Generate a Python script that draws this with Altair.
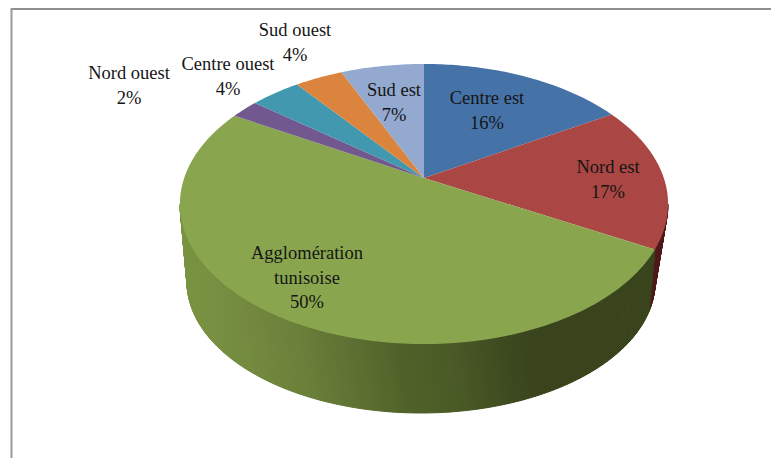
import math
import altair as alt

# ---- data ----
regions = ["Centre est", "Nord est", "Agglomération tunisoise", "Nord ouest", "Centre ouest", "Sud ouest", "Sud est"]
shares = [16.4, 16.6, 50.4, 2.2, 4.0, 3.8, 6.6]
slice_colors = ["#4572A7", "#AA4643", "#89A54E", "#71588F", "#4198AF", "#DB843D", "#93A9CF"]
label_lines = [["Centre est", "16%"], ["Nord est", "17%"], ["Agglomération", "tunisoise", "50%"],
               ["Nord ouest", "2%"], ["Centre ouest", "4%"], ["Sud ouest", "4%"], ["Sud est", "7%"]]
label_x = [487, 608, 307, 129, 228, 295, 394]
label_y = [98, 167, 253, 73, 64, 30, 90]

# ---- layout of the tilted disc (page pixels) ----
OX, OY = 8, 8
CX, APEX_Y = 424, 178
A, B, K = 239.8, 135.2, -0.1857
TOP = (424, 204, 244, 140)
BOTTOM = (421, 282, 234, 131)
STOPS = [(180, (122, 148, 67)), (250, (114, 137, 62)), (300, (106, 127, 57)), (350, (93, 113, 50)),
         (400, (80, 97, 40)), (450, (74, 90, 38)), (510, (60, 72, 30)), (530, (57, 68, 28)), (700, (57, 68, 28))]


def disc(theta):
    u, v = math.sin(theta), -math.cos(theta)
    d = 1 + K * v
    return [CX + A * u / d - OX, APEX_Y + B * v / d - OY]


def rim(e, phi):
    return [e[0] + e[2] * math.cos(phi) - OX, e[1] + e[3] * math.sin(phi) - OY]


def feature(ring, color):
    return {"type": "Feature", "properties": {"color": color},
            "geometry": {"type": "Polygon", "coordinates": [ring + [ring[0]]]}}


def wall_color(x):
    for (x0, c0), (x1, c1) in zip(STOPS, STOPS[1:]):
        if x <= x1:
            t = (x - x0) / (x1 - x0)
            return "rgb(%d,%d,%d)" % tuple(round(a + (b - a) * t) for a, b in zip(c0, c1))
    return "rgb(57,68,28)"


# top face
edges = [0.0]
for s in shares:
    edges.append(edges[-1] + s / sum(shares) * 2 * math.pi)
top_feats = []
for i, c in enumerate(slice_colors):
    n = max(4, int((edges[i + 1] - edges[i]) * 60))
    arc = [disc(edges[i] + (edges[i + 1] - edges[i]) * k / n) for k in range(n + 1)]
    top_feats.append(feature([[CX - OX, APEX_Y - OY]] + arc, c))

# side wall
bx, by = disc(edges[2])
phi_top = math.atan2((by + OY - TOP[1]) / TOP[3], (bx + OX - TOP[0]) / TOP[2])
phi_bot = math.radians(12.7)


def low(phi):
    if phi <= phi_top:
        return phi / phi_top * phi_bot
    return phi_bot + (phi - phi_top) / (math.pi - phi_top) * (math.pi - phi_bot)


wall_feats = []
steps = 240
grid = [math.pi * k / steps for k in range(steps + 1)]
for p0, p1 in zip(grid, grid[1:]):
    ring = [rim(TOP, p0), rim(TOP, p1), rim(BOTTOM, low(p1)), rim(BOTTOM, low(p0))]
    color = "#4f1a1a" if p1 <= phi_top + 1e-6 else wall_color(ring[0][0] + OX)
    wall_feats.append(feature(ring, color))

proj = alt.Projection(type="identity", scale=1, translate=[0, 0])


def shape_layer(feats, stroke):
    kw = {"strokeWidth": 1.0} if stroke else {"strokeWidth": 0}
    return alt.Chart(alt.Data(values=feats)).mark_geoshape(**kw).encode(
        fill=alt.Color("properties.color:N", scale=None),
        stroke=alt.Color("properties.color:N", scale=None),
    ).project(**proj.to_dict())


rows = [{"t": l, "x": x - OX, "y": y - OY} for l, x, y in zip(label_lines, label_x, label_y)]
labels = alt.Chart(alt.Data(values=rows)).mark_text(
    font="Liberation Serif", fontSize=18.5, lineHeight=24.5, color="#151515", align="center", baseline="middle"
).encode(
    text="t:N",
    x=alt.X("x:Q", scale=None, axis=None),
    y=alt.Y("y:Q", scale=None, axis=None),
)

frame_top = alt.Chart(alt.Data(values=[{"a": 1}])).mark_rule(color="#8f8f8f", strokeWidth=2).encode(
    x=alt.value(3), x2=alt.value(763), y=alt.value(1))
frame_left = alt.Chart(alt.Data(values=[{"a": 1}])).mark_rule(color="#9a9a9a", strokeWidth=2).encode(
    x=alt.value(3.5), y=alt.value(0), y2=alt.value(450))

chart = alt.layer(frame_top, frame_left, shape_layer(wall_feats, True), shape_layer(top_feats, False), labels).properties(
    width=763, height=450, padding=0, autosize=alt.AutoSizeParams(type="none"), background="white"
).configure_view(stroke=None)

chart.save("out.html", embed_options={"renderer": "svg", "actions": False})
